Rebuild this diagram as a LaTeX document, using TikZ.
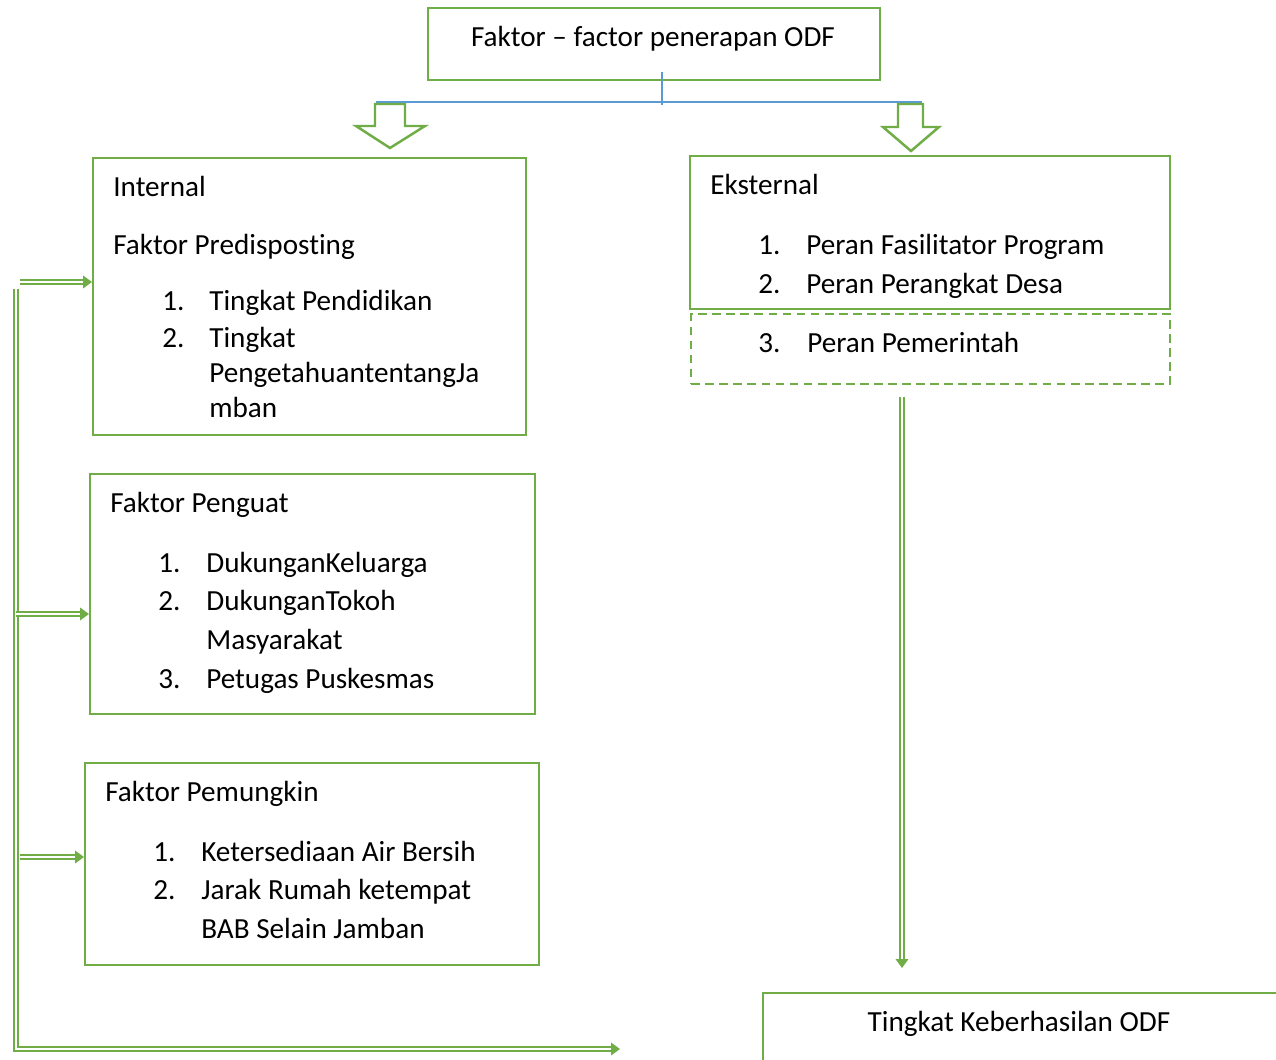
\documentclass[tikz,border=0pt]{standalone}
\usepackage{fontspec}
\setmainfont{Carlito}[Ligatures=NoCommon]
\usetikzlibrary{arrows.meta, positioning}
\definecolor{boxgreen}{HTML}{70AD47}
\definecolor{linkblue}{HTML}{5B9BD5}

\begin{document}
\begin{tikzpicture}[x=0.02cm, y=-0.02cm,
    box/.style={draw=boxgreen, line width=1.4pt, rectangle, anchor=north west, inner sep=0pt},
    txt/.style={anchor=mid west, inner sep=0pt, yshift=-0.1cm, font=\fontsize{16.6}{20}\selectfont},
    dbl/.style={draw=boxgreen, line width=1.1pt, double=white, double distance=1.1pt},
    harrow/.style={draw=boxgreen, line width=1.4pt, fill=white, line join=miter}]

    \useasboundingbox (0,0) rectangle (1276,1060);
    \clip (0,0) rectangle (1276,1060);

    % boxes
    \node [box, minimum width=9.04cm, minimum height=1.44cm] (top) at (427,7) {};
    \node [box, minimum width=8.66cm, minimum height=5.54cm] (intern) at (92,157) {};
    \node [box, minimum width=8.90cm, minimum height=4.80cm] (penguat) at (89,473) {};
    \node [box, minimum width=9.08cm, minimum height=4.04cm] (pemungkin) at (84,762) {};
    \node [box, minimum width=9.60cm, minimum height=3.06cm] (ekstern) at (689,155) {};
    \node [box, dashed, dash pattern=on 5pt off 3pt, minimum width=9.58cm, minimum height=1.40cm] (pemerintah) at (690,313) {};
    \node [box, minimum width=12cm, minimum height=3cm] (hasil) at (762,992) {};

    % texts
    \node [txt, anchor=mid] (judul) at (653,37) {Faktor -- factor penerapan ODF};

    \node [txt] (int) at (113,187) {Internal};
    \node [txt] (pred) at (113,245) {Faktor Predisposting};
    \node [txt] (n11) at (162,301) {1.};
    \node [txt] (p1) at (209,301) {Tingkat Pendidikan};
    \node [txt] (n12) at (162,338) {2.};
    \node [txt] (p2) at (209,338) {Tingkat};
    \node [txt] (p2b) at (209,373) {PengetahuantentangJa};
    \node [txt] (p2c) at (209,408) {mban};

    \node [txt] (peng) at (110,503) {Faktor Penguat};
    \node [txt] (n21) at (158,563) {1.};
    \node [txt] (g1) at (206,563) {DukunganKeluarga};
    \node [txt] (n22) at (158,601) {2.};
    \node [txt] (g2) at (206,601) {DukunganTokoh};
    \node [txt] (g2b) at (206,640) {Masyarakat};
    \node [txt] (n23) at (158,679) {3.};
    \node [txt] (g3) at (206,679) {Petugas Puskesmas};

    \node [txt] (pem) at (105,792) {Faktor Pemungkin};
    \node [txt] (n31) at (153,852) {1.};
    \node [txt] (m1) at (201,852) {Ketersediaan Air Bersih};
    \node [txt] (n32) at (153,890) {2.};
    \node [txt] (m2) at (201,890) {Jarak Rumah ketempat};
    \node [txt] (m2b) at (201,929) {BAB Selain Jamban};

    \node [txt] (eks) at (710,185) {Eksternal};
    \node [txt] (n41) at (758,245) {1.};
    \node [txt] (e1) at (806,245) {Peran Fasilitator Program};
    \node [txt] (n42) at (758,284) {2.};
    \node [txt] (e2) at (806,284) {Peran Perangkat Desa};
    \node [txt] (n43) at (758,343) {3.};
    \node [txt] (e3) at (807,343) {Peran Pemerintah};

    \node [txt, anchor=mid] (hsl) at (1019,1022) {Tingkat Keberhasilan ODF};

    % blue split
    \coordinate (bt) at (662,72);
    \coordinate (bb) at (662,105);
    \coordinate (bl) at (376,102);
    \coordinate (br) at (922,102);
    \draw [linkblue, line width=0.6pt] (bt) -- (bb);
    \draw [linkblue, line width=0.6pt] (bl) -- (br);

    % hollow arrows
    \draw [harrow] (375,104) -- (375,126) -- (356,126) -- (390,148) -- (425,126) -- (405,126) -- (405,104) -- cycle;
    \draw [harrow] (898,104) -- (898,127) -- (883,127) -- (911,151) -- (939,127) -- (923,127) -- (923,104) -- cycle;

    % left feed lines
    \coordinate (vtop) at (16,289);
    \coordinate (vbot) at (16,1049);
    \coordinate (uji) at (620,1049);
    \coordinate (a1) at (20,282);
    \coordinate (a2) at (16,614);
    \coordinate (a3) at (20,857);
    \draw [dbl, -{Triangle[length=5pt, width=7pt]}] (vtop) -- (vbot) -- (uji);
    \draw [dbl, -{Triangle[length=5pt, width=7pt]}] (a1) -- (a1 -| intern.west);
    \draw [dbl, -{Triangle[length=5pt, width=7pt]}] (a2) -- (a2 -| penguat.west);
    \draw [dbl, -{Triangle[length=5pt, width=7pt]}] (a3) -- (a3 -| pemungkin.west);

    % right feed line
    \coordinate (rtop) at (902,397);
    \coordinate (rbot) at (902,968);
    \draw [dbl, -{Triangle[length=5pt, width=7pt]}] (rtop) -- (rbot);
\end{tikzpicture}
\end{document}
